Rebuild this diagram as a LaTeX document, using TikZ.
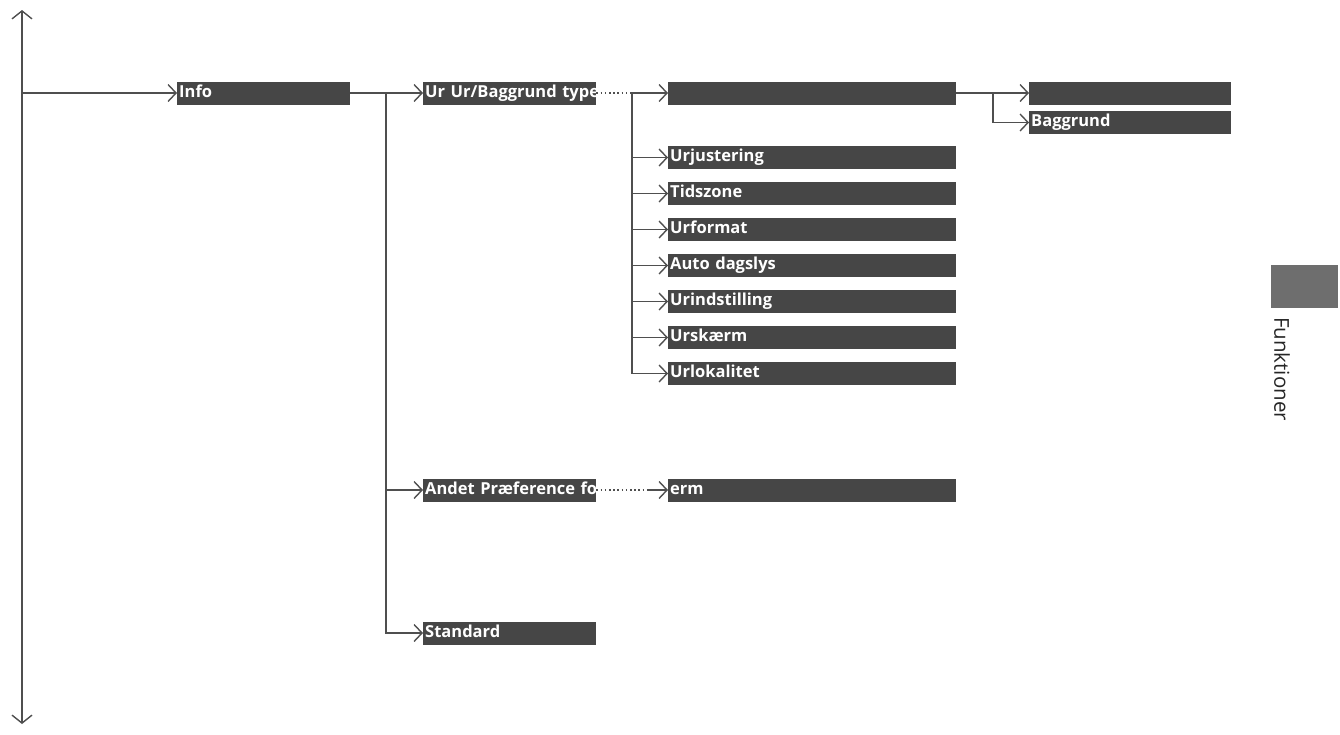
\documentclass[tikz,border=0pt]{standalone}
\usepackage{fontspec}
\setmainfont{Open Sans}
\usetikzlibrary{arrows.meta}
\definecolor{boxgray}{HTML}{464646}
\definecolor{linegray}{HTML}{4F4F4F}
\definecolor{tabgray}{HTML}{6E6E6E}
\tikzset{
  mbox/.style={fill=boxgray, text=white, font=\fontsize{16.5}{16.5}\selectfont\bfseries,
    inner xsep=2pt, inner ysep=0pt, minimum height=23pt, text height=12pt, text depth=4pt,
    anchor=west, align=left,
    execute at begin node={\hbox to 0pt\bgroup},
    execute at end node={\hss\egroup}},
  wA/.style={text width=169pt},
  wB/.style={text width=284pt},
  wC/.style={text width=198pt},
  conn/.style={draw=linegray, line width=1.4pt},
  dots/.style={conn, dash pattern=on 1.6pt off 2.6pt},
  arr/.style={conn, -{Straight Barb[length=8pt,width=17pt,line width=1.4pt]}},
}
\begin{document}
\begin{tikzpicture}[x=1pt,y=-1pt]
\useasboundingbox (0,0) rectangle (1340,734);
% main axis
\coordinate (top) at (22,10);
\coordinate (bot) at (22,724);
\coordinate (j0) at (22,93);
\draw[conn, {Straight Barb[length=8pt,width=20pt,line width=1.4pt]}-{Straight Barb[length=8pt,width=20pt,line width=1.4pt]}] (top) -- (bot);
% level 1
\node[mbox,wA] (info) at (177,93) {Info};
\draw[arr] (j0) -- (info.west);
% level 2
\node[mbox,wA] (ur) at (423,93) {Ur Ur/Baggrund type};
\node[mbox,wA] (andet) at (423,490) {Andet Præference fo};
\node[mbox,wA] (std) at (423,633) {Standard};
\coordinate (b1) at (386,93);
\draw[arr] (info.east) -- (ur.west);
\draw[arr] (b1) |- (andet.west);
\draw[arr] (b1) |- (std.west);
% level 3
\node[mbox,wB] (clk) at (668,93) {};
\node[mbox,wB] (urj) at (668,157.5) {Urjustering};
\node[mbox,wB] (tid) at (668,193.5) {Tidszone};
\node[mbox,wB] (urf) at (668,229.5) {Urformat};
\node[mbox,wB] (auto) at (668,265.5) {Auto dagslys};
\node[mbox,wB] (urind) at (668,301.5) {Urindstilling};
\node[mbox,wB] (ursk) at (668,337.5) {Urskærm};
\node[mbox,wB] (urlok) at (668,373.5) {Urlokalitet};
\node[mbox,wB] (pref) at (668,490) {erm};
\coordinate (c1) at (632,93);
\draw[dots] (ur.east) -- (c1);
\draw[arr] (c1) -- (clk.west);
\foreach \n in {urj,tid,urf,auto,urind,ursk,urlok} {\draw[arr] (c1) |- (\n.west);}
\coordinate (d1) at (648,490);
\draw[dots] (andet.east) -- (d1);
\draw[arr] (d1) -- (pref.west);
% level 4
\node[mbox,wC] (top4) at (1029,93) {};
\node[mbox,wC] (bagg) at (1029,122.5) {Baggrund};
\coordinate (e1) at (993,93);
\draw[arr] (clk.east) -- (top4.west);
\draw[arr] (e1) |- (bagg.west);
% side tab
\node[fill=tabgray, minimum width=67pt, minimum height=43pt, inner sep=0pt, anchor=north west] (tab) at (1271,265) {};
\node[rotate=-90, anchor=south west, inner sep=0pt, font=\fontsize{20.5}{20.5}\selectfont, text=black!85] (fk) at (1274,317) {Funktioner};
\end{tikzpicture}
\end{document}
